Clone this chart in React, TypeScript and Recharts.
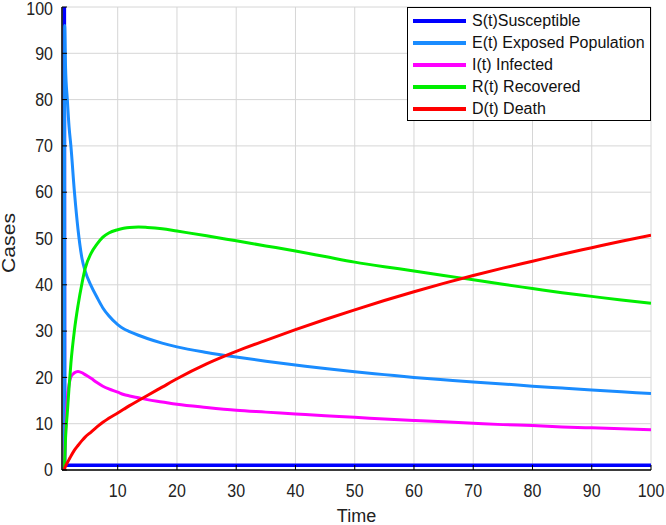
import React from 'react';
import { LineChart, Line, XAxis, YAxis, CartesianGrid, Legend } from 'recharts';

const times = [1, 1.05, 1.2, 1.5, 1.8, 2.1, 2.7, 3.3, 4, 4.5, 5.5, 6.5, 7.5, 8.5, 10, 11, 12, 13.5, 15, 17.5, 20, 25, 30, 35, 40, 45, 50, 55, 60, 65, 70, 75, 80, 85, 90, 95, 100];

const susceptible = [100, 1.5, 1.1, 1, 1, 1, 1, 1, 1, 1, 1, 1, 1, 1, 1, 1, 1, 1, 1, 1, 1, 1, 1, 1, 1, 1, 1, 1, 1, 1, 1, 1, 1, 1, 1, 1, 1];
const exposed = [0, 96, 87, 80, 74, 70, 60, 52, 45.5, 43, 39.8, 37.3, 35.0, 33.3, 31.4, 30.5, 29.9, 29.1, 28.4, 27.4, 26.6, 25.4, 24.4, 23.5, 22.7, 21.9, 21.2, 20.6, 20.0, 19.5, 19.0, 18.6, 18.1, 17.7, 17.3, 16.9, 16.5];
const infected = [0, 3, 8, 15.5, 18.5, 20.1, 21.0, 21.3, 21.0, 20.6, 19.8, 18.9, 18.1, 17.5, 16.8, 16.3, 16.0, 15.6, 15.2, 14.7, 14.2, 13.5, 12.9, 12.5, 12.1, 11.7, 11.4, 11.0, 10.7, 10.4, 10.1, 9.8, 9.6, 9.3, 9.1, 8.9, 8.7];
const recovered = [0, 2, 7, 12.5, 18, 23, 30.2, 35.5, 40.5, 43.5, 46.8, 48.8, 50.3, 51.2, 51.9, 52.2, 52.4, 52.5, 52.4, 52.1, 51.6, 50.6, 49.5, 48.4, 47.3, 46.1, 44.9, 43.9, 43.0, 42.0, 41.1, 40.1, 39.2, 38.3, 37.5, 36.7, 36.0];
const death = [0, 0.3, 0.8, 1.6, 2.3, 3.0, 4.3, 5.3, 6.4, 7.1, 8.2, 9.3, 10.3, 11.2, 12.3, 13.1, 13.9, 15.0, 16.1, 17.9, 19.7, 22.9, 25.6, 28.0, 30.3, 32.5, 34.6, 36.6, 38.5, 40.3, 42.0, 43.6, 45.1, 46.6, 48.0, 49.4, 50.7];

const xTicks = [10, 20, 30, 40, 50, 60, 70, 80, 90, 100];
const yTicks = [0, 10, 20, 30, 40, 50, 60, 70, 80, 90, 100];

const seriesKeys = ['S', 'E', 'I', 'R', 'D'];
const seriesNames = ['S(t)Susceptible', 'E(t) Exposed Population', 'I(t) Infected', 'R(t) Recovered', 'D(t) Death'];
const seriesColors = ['#0000ff', '#1a8cff', '#ff00ff', '#00ee00', '#ff0000'];
const seriesWidths = [3.5, 3, 3, 3, 3];
const seriesValues = [susceptible, exposed, infected, recovered, death];

const data = times.map((t, i) => {
  const row: Record<string, number> = { t };
  seriesKeys.forEach((k, j) => {
    row[k] = seriesValues[j][i];
  });
  return row;
});

const FONT = '"Liberation Sans", Arial, Helvetica, sans-serif';

const LegendBox = () => (
  <div
    style={{
      width: 244,
      height: 114,
      boxSizing: 'border-box',
      border: '1px solid #000',
      background: '#fff',
      paddingTop: 2,
      fontFamily: FONT,
    }}
  >
    {seriesNames.map((name, i) => (
      <div key={name} style={{ display: 'flex', alignItems: 'center', height: 22 }}>
        <svg width={64} height={8} style={{ display: 'block' }}>
          <line x1={5} y1={4} x2={58} y2={4} stroke={seriesColors[i]} strokeWidth={4} />
        </svg>
        <span style={{ fontSize: 16, color: '#111', whiteSpace: 'nowrap' }}>{name}</span>
      </div>
    ))}
  </div>
);

const XTick = (props: any) => {
  const { x, y, payload } = props;
  return (
    <g transform={`translate(${x},${y}) scale(1,1.1)`}>
      <text x={0} y={0} dy="0.71em" textAnchor="middle" fontSize={16} fill="#222" fontFamily={FONT}>
        {payload.value}
      </text>
    </g>
  );
};

const YTick = (props: any) => {
  const { x, y, payload } = props;
  return (
    <g transform={`translate(${x},${y}) scale(1,1.1)`}>
      <text x={0} y={0} dy="0.355em" textAnchor="end" fontSize={16} fill="#222" fontFamily={FONT}>
        {payload.value}
      </text>
    </g>
  );
};

const CasesLabel = () => (
  <text
    x={9}
    y={243}
    transform="rotate(-90, 9, 243)"
    textAnchor="middle"
    dominantBaseline="central"
    fontSize={18}
    fill="#222"
    fontFamily={FONT}
    textLength={60}
    lengthAdjust="spacingAndGlyphs"
  >
    Cases
  </text>
);

export default function App() {
  return (
    <div style={{ position: 'absolute', left: 0, top: 0, width: 666, height: 525, background: '#fff' }}>
      <LineChart
        width={666}
        height={525}
        data={data}
        margin={{ top: 7, right: 15, left: 0, bottom: 0 }}
        style={{ fontFamily: FONT }}
      >
        <CartesianGrid stroke="#d6d6d6" strokeWidth={1} />
        <XAxis
          dataKey="t"
          type="number"
          domain={[0.6, 100]}
          allowDataOverflow
          ticks={xTicks}
          height={55}
          axisLine={{ stroke: '#000', strokeWidth: 1.5 }}
          tickLine={{ stroke: '#000' }}
          tickSize={-5}
          tickMargin={19}
          tick={<XTick />}
          label={{ value: 'Time', position: 'insideBottom', offset: 3, fontSize: 18, fill: '#222' }}
        />
        <XAxis
          xAxisId="top"
          orientation="top"
          dataKey="t"
          type="number"
          domain={[0.6, 100]}
          allowDataOverflow
          ticks={xTicks}
          height={0}
          axisLine={{ stroke: '#000', strokeWidth: 1.5 }}
          tickLine={{ stroke: '#000' }}
          tickSize={-5}
          tick={false}
        />
        <YAxis
          type="number"
          domain={[0, 100]}
          ticks={yTicks}
          width={62}
          axisLine={{ stroke: '#000', strokeWidth: 1.5 }}
          tickLine={{ stroke: '#000' }}
          tickSize={-5}
          tickMargin={14}
          tick={<YTick />}
          label={{ content: () => <CasesLabel /> }}
        />
        <YAxis
          yAxisId="right"
          orientation="right"
          type="number"
          domain={[0, 100]}
          ticks={yTicks}
          width={0}
          axisLine={{ stroke: '#000', strokeWidth: 1.5 }}
          tickLine={{ stroke: '#000' }}
          tickSize={-5}
          tick={false}
        />
        {seriesKeys.map((k, i) => (
          <Line
            key={k}
            dataKey={k}
            name={seriesNames[i]}
            type="monotone"
            stroke={seriesColors[i]}
            strokeWidth={seriesWidths[i]}
            dot={false}
            activeDot={false}
            isAnimationActive={false}
          />
        ))}
        <Legend
          layout="vertical"
          align="center"
          verticalAlign="middle"
          wrapperStyle={{ left: 407, top: 7, width: 244, height: 114 }}
          content={() => <LegendBox />}
        />
      </LineChart>
    </div>
  );
}
